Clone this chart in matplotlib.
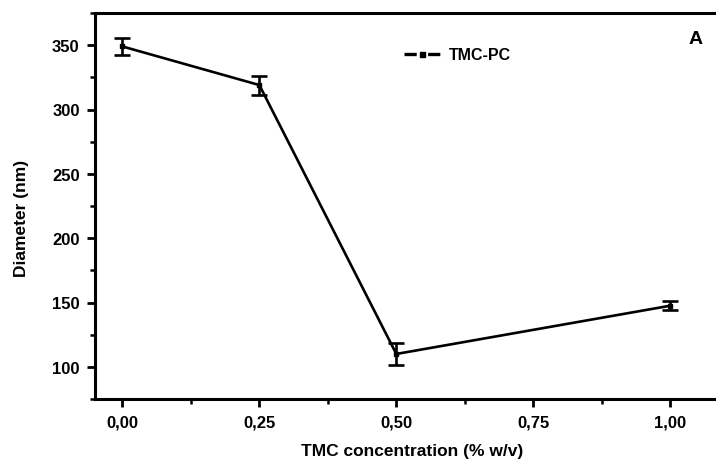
import numpy as np
import matplotlib
matplotlib.use('Agg')
import matplotlib.pyplot as plt
from matplotlib.lines import Line2D
from matplotlib.ticker import MultipleLocator, FuncFormatter

# 字体设置
plt.rcParams['font.family'] = 'Liberation Sans'
plt.rcParams['font.weight'] = 'bold'
plt.rcParams['font.size'] = 12
plt.rcParams['lines.scale_dashes'] = False

# 数据
tmc_conc = [0.00, 0.25, 0.50, 1.00]
diameter = [349, 319, 110, 147.5]
diameter_err = [6.8, 7.4, 8.3, 3.4]
series_name = 'TMC-PC'

fig = plt.figure(figsize=(7.16, 4.64), dpi=100)
# 右侧坐标轴超出画面
ax = fig.add_axes([95 / 716, 64 / 464, 630 / 716, 386 / 464])

ax.errorbar(tmc_conc, diameter, yerr=diameter_err, color='black', linewidth=1.9,
            marker='s', markersize=3.5, capsize=6, capthick=1.9, elinewidth=1.9)

ax.set_xlim(-0.05, 1.1)
ax.set_ylim(75, 375)

ax.xaxis.set_major_locator(MultipleLocator(0.25))
ax.xaxis.set_minor_locator(MultipleLocator(0.125))
ax.yaxis.set_major_locator(MultipleLocator(50))
ax.yaxis.set_minor_locator(MultipleLocator(25))
ax.xaxis.set_major_formatter(FuncFormatter(lambda v, _: '{:.2f}'.format(v).replace('.', ',')))

for s in ax.spines.values():
    s.set_linewidth(2.2)
ax.spines['right'].set_visible(False)

ax.tick_params(which='major', direction='out', length=6, width=2, pad=5)
ax.tick_params(which='minor', direction='out', length=3.5, width=1.8)
ax.tick_params(axis='x', which='both', top=False)

ax.set_xlabel('TMC concentration (% w/v)', fontweight='bold', fontsize=12.5)
ax.set_ylabel('Diameter (nm)', fontweight='bold', fontsize=12.5)
ax.xaxis.set_label_coords((412 - 95) / 630, (400 - 452) / 386)
ax.yaxis.set_label_coords((22 - 95) / 630, (400 - 218) / 386)
ax.xaxis.label.set_va('center')
ax.yaxis.label.set_va('center')

# 图例：线-点-线
handle = Line2D([], [], color='black', linewidth=2.4, marker='s', markersize=3.6,
                dashes=(8.8, 8.2))
ax.legend([handle], [series_name], loc='center left', frameon=False,
          bbox_to_anchor=(404 / 716, 1 - 56 / 464), bbox_transform=fig.transFigure,
          borderpad=0, borderaxespad=0, handlelength=2.25, handletextpad=0.55,
          fontsize=11.5)

ax.text((696 - 95) / 630, (400 - 40) / 386, 'A', transform=ax.transAxes,
        ha='center', va='center', fontsize=14, fontweight='bold')

plt.savefig('out.png', dpi=100)
